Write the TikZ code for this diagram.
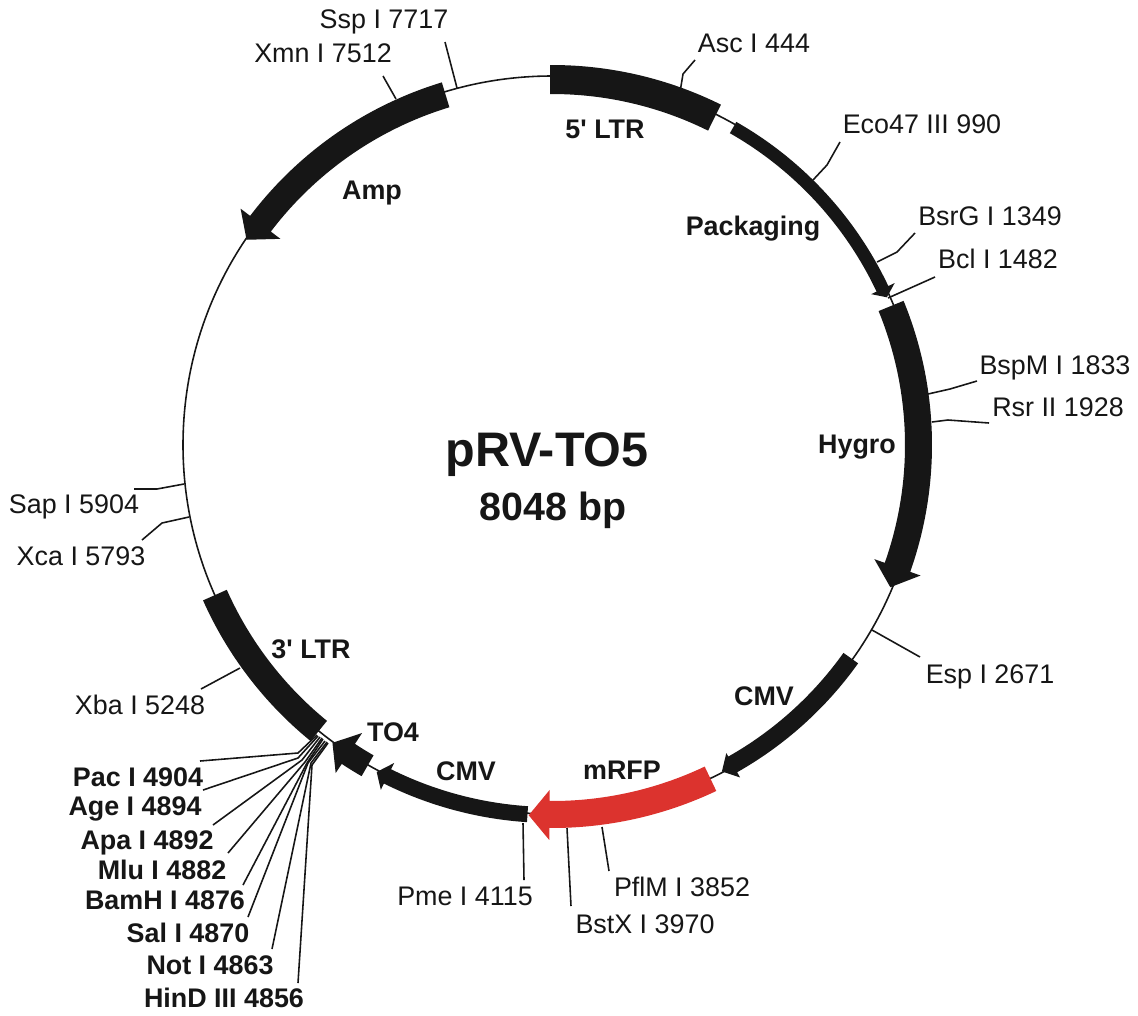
\documentclass[tikz,border=0pt]{standalone}
\usepackage{fontspec}
\setmainfont{Liberation Sans}
\definecolor{inkblack}{HTML}{161616}
\definecolor{rfpred}{HTML}{DC332E}
\tikzset{
  ring/.style={
    line width=0.9pt,
    draw=inkblack
  },
  cuttick/.style={
    line width=0.9pt,
    draw=inkblack
  },
  enzyme/.style={
    inner sep = 0pt,
    text height=11pt,
    text depth=0pt,
    text=inkblack,
    font=\fontsize{15.3}{18}\selectfont
  },
  enzymeb/.style={
    enzyme,
    font=\fontsize{15.3}{18}\selectfont\bfseries
  },
  genefill/.style={
    fill=inkblack
  },
}
% start, head base, tip angles; inner, outer radius; head inner, head outer, tip radius
\newcommand{\genearrow}[9][genefill]{
  \fill[#1] (#2:#6) arc[start angle=#2, end angle=#3, radius=#6]
    -- (#3:#8) -- (#4:#9) -- (#3:#7) -- (#3:#5)
    arc[start angle=#3, end angle=#2, radius=#5] -- cycle;
}
\newcommand{\geneblock}[4]{
  \fill[genefill] (#1:#4) arc[start angle=#1, end angle=#2, radius=#4]
    -- (#2:#3) arc[start angle=#2, end angle=#1, radius=#3] -- cycle;
}
\begin{document}
\begin{tikzpicture}[x=0.02cm,y=-0.02cm]
  \useasboundingbox (0,0) rectangle (1138,1015);
  \begin{scope}[shift={(552,445)},y=0.02cm]
    \draw[ring] (0,0) circle[radius=369];
    \geneblock{90.3}{63.6}{351}{380}
    \genearrow{60.3}{25.3}{23.8}{359}{372}{353}{379}{366}
    \genearrow{22.3}{-19.5}{-22.8}{353}{380}{342}{391}{367}
    \genearrow{-35.5}{-60.5}{-62.5}{358}{376}{354}{382}{368}
    \genearrow[fill=rfpred]{-64.6}{-90.4}{-93.6}{356}{383}{345}{395}{371}
    \genearrow{-93.8}{-116.4}{-118.2}{362}{378}{355}{385}{371}
    \genearrow{-119.9}{-123.4}{-126.4}{358}{382}{345}{393}{370}
    \geneblock{204}{230.8}{356}{382}
    \genearrow{106.9}{142.8}{146.1}{353}{379}{341}{391}{368}
  \end{scope}
  \node[enzymeb, text height=19.7pt, font=\fontsize{27.6}{30}\selectfont\bfseries] (title) at (547,449) {pRV-TO5};
  \node[enzymeb, text height=16pt, font=\fontsize{22.4}{26}\selectfont\bfseries] (size) at (553,506) {8048 bp};
  \node[enzymeb] (ltrfive) at (605,129) {5\textquotesingle\ LTR};
  \node[enzymeb] (packaging) at (753,226) {Packaging};
  \node[enzymeb] (hygro) at (857,444) {Hygro};
  \node[enzymeb] (cmvright) at (764,696) {CMV};
  \node[enzymeb] (mrfp) at (622,770) {mRFP};
  \node[enzymeb] (cmvleft) at (466,771) {CMV};
  \node[enzymeb] (tofour) at (393,732) {TO4};
  \node[enzymeb] (ltrthree) at (311,649) {3\textquotesingle\ LTR};
  \node[enzymeb] (amp) at (372,190) {Amp};
  % sites with a straight tick
  \foreach \n/\t/\x/\y/\ax/\ay/\bx/\by in {
    ssp/Ssp I 7717/384/19/445/42/457/88,
    xmn/Xmn I 7512/323/53/383/76/396/99,
    bcl/Bcl I 1482/998/259/935/277/888/298,
    esp/Esp I 2671/990/674/920/657/872/630,
    pflm/PflM I 3852/682/887/609/871/602/827,
    bstx/BstX I 3970/645/924/571/906/567/828,
    pme/Pme I 4115/465/896/524/880/523/823,
    xba/Xba I 5248/140/705/201/689/240/668}{
    \node[enzyme] (\n) at (\x,\y) {\t};
    \coordinate (\n a) at (\ax,\ay);
    \coordinate (\n b) at (\bx,\by);
    \draw[cuttick] (\n a) -- (\n b);
  }
  % sites with a bent tick
  \foreach \n/\t/\x/\y/\ax/\ay/\mx/\my/\bx/\by in {
    asc/Asc I 444/754/43/695/60/683/74/680/92,
    eco/Eco47 III 990/922/124/840/142/827/165/813/180,
    bsrg/BsrG I 1349/990/216/915/233/897/252/877/262,
    bspm/BspM I 1833/1055/365/977/381/950/389/928/394,
    rsr/Rsr II 1928/1058/407/989/423/948/420/932/422,
    sap/Sap I 5904/74/504/134/489/157/489/184/484,
    xca/Xca I 5793/81/556/142/540/162/523/189/517}{
    \node[enzyme] (\n) at (\x,\y) {\t};
    \coordinate (\n a) at (\ax,\ay);
    \coordinate (\n m) at (\mx,\my);
    \coordinate (\n b) at (\bx,\by);
    \draw[cuttick] (\n a) -- (\n m) -- (\n b);
  }
  % the bold fan of sites
  \foreach \n/\t/\x/\y/\ax/\ay/\mx/\my/\bx/\by in {
    pac/Pac I 4904/138/777/200/761/298/753/317/735,
    age/Age I 4894/135/806/203/790/298/758/318/736,
    apa/Apa I 4892/147/840/213/825/302/760/320/737,
    mlu/Mlu I 4882/162/870/228/853/305/762/322/738,
    bamh/BamH I 4876/165/900/243/885/307/763/323/739,
    sal/Sal I 4870/188/933/248/917/308/763/325/741,
    not/Not I 4863/210/965/272/949/311/763/327/742,
    hind/HinD III 4856/224/998/298/983/312/765/328/743}{
    \node[enzymeb] (\n) at (\x,\y) {\t};
    \coordinate (\n a) at (\ax,\ay);
    \coordinate (\n m) at (\mx,\my);
    \coordinate (\n b) at (\bx,\by);
    \draw[cuttick] (\n a) -- (\n m) -- (\n b);
  }
\end{tikzpicture}
\end{document}
